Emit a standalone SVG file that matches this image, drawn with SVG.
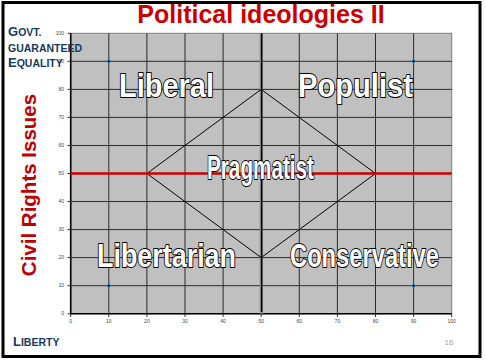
<svg xmlns="http://www.w3.org/2000/svg" width="486" height="360" viewBox="0 0 486 360">
<style>
.grid{stroke:#2a2a2a;stroke-width:1;fill:none}
.tick{font-family:"Liberation Sans",Arial,sans-serif;font-size:5px;fill:#444}
.quad{font-family:"Liberation Sans",Arial,sans-serif;font-weight:bold;font-size:33px;fill:#fff;stroke:#000;stroke-width:2;paint-order:stroke;stroke-linejoin:round}
.side{font-family:"Liberation Sans",Arial,sans-serif;font-weight:bold;fill:#17375E;font-size:10.5px}
.big{font-size:13px}
</style>
<rect x="3" y="2.5" width="477" height="354" fill="#fff" stroke="#000" stroke-width="3"/>
<text x="261" y="23" text-anchor="middle" font-family="'Liberation Sans',Arial,sans-serif" font-weight="bold" font-size="25" fill="#CC0000">Political ideologies II</text>
<g id="plot">
<rect x="70.7" y="33.3" width="381" height="280.4" fill="#C0C0C0" stroke="#808080" stroke-width="1"/>
<g class="grid">
<path d="M108.8 33.3V313.7M146.9 33.3V313.7M185 33.3V313.7M223.1 33.3V313.7M299.3 33.3V313.7M337.4 33.3V313.7M375.5 33.3V313.7M413.6 33.3V313.7"/>
<path d="M70.7 285.7H451.7M70.7 257.6H451.7M70.7 229.6H451.7M70.7 201.5H451.7M70.7 145.5H451.7M70.7 117.4H451.7M70.7 89.4H451.7M70.7 61.3H451.7"/>
</g>
<path d="M70.7 33.3V313.7H451.7" fill="none" stroke="#000" stroke-width="1.6"/>
<path d="M67.5 33.3H70.7M67.5 61.3H70.7M67.5 89.4H70.7M67.5 117.4H70.7M67.5 145.5H70.7M67.5 173.5H70.7M67.5 201.5H70.7M67.5 229.6H70.7M67.5 257.6H70.7M67.5 285.7H70.7M67.5 313.7H70.7M70.7 313.7V317M108.8 313.7V317M146.9 313.7V317M185 313.7V317M223.1 313.7V317M261.2 313.7V317M299.3 313.7V317M337.4 313.7V317M375.5 313.7V317M413.6 313.7V317M451.7 313.7V317" stroke="#000" stroke-width="0.8"/>
<g class="tick" text-anchor="end">
<text x="64" y="35">100</text><text x="64" y="63">90</text><text x="64" y="91">80</text><text x="64" y="119">70</text><text x="64" y="147">60</text><text x="64" y="175">50</text><text x="64" y="203">40</text><text x="64" y="231">30</text><text x="64" y="259">20</text><text x="64" y="287">10</text><text x="64" y="315">0</text>
</g>
<g class="tick" text-anchor="middle">
<text x="70.7" y="323">0</text><text x="108.8" y="323">10</text><text x="146.9" y="323">20</text><text x="185" y="323">30</text><text x="223.1" y="323">40</text><text x="261.2" y="323">50</text><text x="299.3" y="323">60</text><text x="337.4" y="323">70</text><text x="375.5" y="323">80</text><text x="413.6" y="323">90</text><text x="451.7" y="323">100</text>
</g>
</g>
<g id="connectors">
<line x1="261.2" y1="33.3" x2="261.2" y2="313.7" stroke="#888" stroke-width="3"/>
<line x1="261.7" y1="33.3" x2="261.7" y2="312" stroke="#000" stroke-width="1.5"/>
<path d="M146.9 173.5L261.2 89.4L375.5 173.5L261.2 257.6Z" fill="none" stroke="#000" stroke-width="1"/>
<line x1="70.7" y1="173.5" x2="451.7" y2="173.5" stroke="#CC0000" stroke-width="2.5"/>
</g>
<g id="points" fill="#002080" stroke="#5c9" stroke-width="0.6">
<circle cx="108.8" cy="61.3" r="1.8"/><circle cx="413.6" cy="61.3" r="1.8"/><circle cx="108.8" cy="285.7" r="1.8"/><circle cx="413.6" cy="285.7" r="1.8"/>
</g>
<g id="liberal"><text class="quad" x="119" y="97" textLength="95" lengthAdjust="spacingAndGlyphs">Liberal</text></g>
<g id="populist"><text class="quad" x="298" y="97" textLength="115" lengthAdjust="spacingAndGlyphs">Populist</text></g>
<g id="pragmatist"><text class="quad" x="207" y="179" textLength="107" lengthAdjust="spacingAndGlyphs">Pragmatist</text></g>
<g id="libertarian"><text class="quad" x="97" y="267" textLength="139" lengthAdjust="spacingAndGlyphs">Libertarian</text></g>
<g id="conservative"><text class="quad" x="290" y="267" textLength="149" lengthAdjust="spacingAndGlyphs">Conservative</text></g>
<g id="equality-label">
<text class="side" x="8" y="35.5"><tspan class="big">G</tspan>OVT.</text>
<text class="side" x="8" y="51.5">GUARANTEED</text>
<text class="side" x="8" y="67"><tspan class="big">E</tspan>QUALITY</text>
</g>
<g id="liberty-label"><text class="side" x="13" y="346"><tspan class="big">L</tspan>IBERTY</text></g>
<g id="axis-label"><text transform="translate(36 185) rotate(-90)" text-anchor="middle" font-family="'Liberation Sans',Arial,sans-serif" font-weight="bold" font-size="20.5" fill="#C00000">Civil Rights Issues</text></g>
<text x="449" y="345" text-anchor="middle" font-family="'Liberation Sans',Arial,sans-serif" font-size="8" fill="#A0A0A0">16</text>
</svg>
